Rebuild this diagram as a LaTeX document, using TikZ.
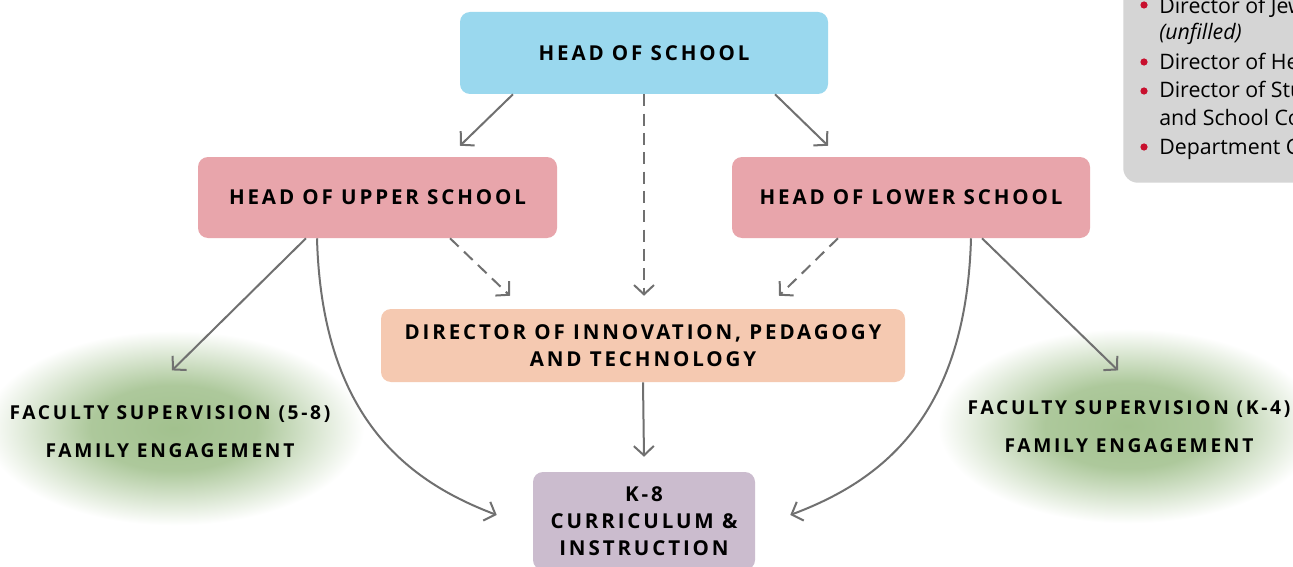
\documentclass[tikz,border=0pt]{standalone}
\usepackage{fontspec}
\setmainfont{Open Sans}
\newfontfamily\capsfont[LetterSpace=14]{Open Sans}
\usetikzlibrary{arrows.meta,calc,shapes.geometric}

\definecolor{headblue}{HTML}{9AD8EE}
\definecolor{headpink}{HTML}{E8A5AB}
\definecolor{peach}{HTML}{F5C9B1}
\definecolor{lilac}{HTML}{CBBCCE}
\definecolor{arrowgray}{HTML}{707070}
\definecolor{listgray}{HTML}{D5D5D5}
\definecolor{bulletred}{HTML}{C8102E}
\definecolor{glowgreen}{HTML}{A2C18E}

\pgfdeclareradialshading{greenglow}{\pgfpoint{0bp}{0bp}}{%
  color(0bp)=(glowgreen); color(11bp)=(glowgreen!88!white);
  color(25bp)=(white); color(50bp)=(white)}

\tikzset{
	box/.style={rounded corners=7.5pt, inner sep=0pt, align=center,
		font=\capsfont\bfseries\fontsize{15.4}{20.25}\selectfont},
	glow/.style={ellipse, shading=greenglow, inner sep=0pt,
		minimum width=285pt, minimum height=146pt},
	glowtext/.style={align=center, inner sep=0pt,
		font=\capsfont\bfseries\fontsize{14.4}{20.25}\selectfont},
	item/.style={anchor=base west, inner sep=0pt,
		font=\fontsize{16}{20}\selectfont},
	conn/.style={draw=arrowgray, line width=1.5pt,
		-{Straight Barb[length=7pt,width=15pt]}},
	dashconn/.style={conn, dash pattern=on 9pt off 5.5pt}
	}

\begin{document}
\begin{tikzpicture}[x=0.75pt, y=-0.75pt]

	\fill[white] (0,0) rectangle (1293,567);
	\clip (0,0) rectangle (1293,567);

	% green glows behind the supervision labels
	\node[glow] (upglow) at (174,428) {};
	\node[glow] (lowglow) at (1128,426) {};

	% boxes
	\node[box, fill=headblue, minimum width=276pt, minimum height=61.5pt] (hos) at (644,53) {HEAD OF SCHOOL};
	\node[box, fill=headpink, minimum width=269.25pt, minimum height=60.75pt] (upper) at (377.5,197.5) {HEAD OF UPPER SCHOOL};
	\node[box, fill=headpink, minimum width=268.5pt, minimum height=60.75pt] (lower) at (911,197.5) {HEAD OF LOWER SCHOOL};
	\node[box, fill=peach, minimum width=393pt, minimum height=54.75pt] (dir) at (643,345.5) {DIRECTOR OF INNOVATION, PEDAGOGY\\AND TECHNOLOGY};
	\node[box, fill=lilac, minimum width=166.5pt, minimum height=73.5pt] (k8) at (644,521) {K-8\\CURRICULUM \&\\INSTRUCTION};

	% supervision labels
	\node[glowtext] (uptext) at (170,432) {FACULTY SUPERVISION (5-8)\\[8.25pt]FAMILY ENGAGEMENT};
	\node[glowtext] (lowtext) at (1129,427) {FACULTY SUPERVISION (K-4)\\[8.25pt]FAMILY ENGAGEMENT};

	% staff list, top right
	\node[fill=listgray, rounded corners=11pt, inner sep=0pt, anchor=south west,
		minimum width=165pt, minimum height=160pt] (staff) at (1123,183) {};
	\foreach \y in {5,62,91,147}
		\fill[bulletred] (1144,\y) circle (2.7pt);
	\node[item] (jewish) at (1159,14) {Director of Jewish Life};
	\node[item] (unfilled) at (1159,40) {\itshape(unfilled)};
	\node[item] (hebrew) at (1159,70) {Director of Hebrew};
	\node[item] (student) at (1159,98) {Director of Student Support};
	\node[item] (counsel) at (1159,126) {and School Counseling};
	\node[item] (chairs) at (1159,155) {Department Chairs};

	% solid reporting lines
	\draw[conn] ($(hos.south)+(-131,0)$) -- ($(upper.north)+(82.5,-11)$);
	\draw[conn] ($(hos.south)+(131,0)$) -- ($(lower.north)+(-83,-11)$);
	\draw[conn] ($(upper.south)+(-71.5,0)$) -- ($(upglow.north)+(-2,40)$);
	\draw[conn] ($(lower.south)+(71,0)$) -- ($(lowglow.north)+(-10,42)$);
	\draw[conn] (dir.south) -- ($(k8.north)+(0,-15)$);

	% curved lines down to curriculum
	\draw[conn] ($(upper.south)+(-60.5,0)$) .. controls (322,420) and (410,482) .. ($(k8.west)+(-36,-6)$);
	\draw[conn] ($(lower.south)+(60,0)$) .. controls (966,420) and (878,482) .. ($(k8.east)+(35,-6)$);

	% dashed lines to the director
	\draw[dashconn] (hos.south) -- ($(dir.north)+(1,-13)$);
	\draw[dashconn] ($(upper.south)+(72.5,0)$) -- ($(dir.north)+(-133,-13)$);
	\draw[dashconn] ($(lower.south)+(-73,0)$) -- ($(dir.north)+(136,-13)$);

\end{tikzpicture}
\end{document}
